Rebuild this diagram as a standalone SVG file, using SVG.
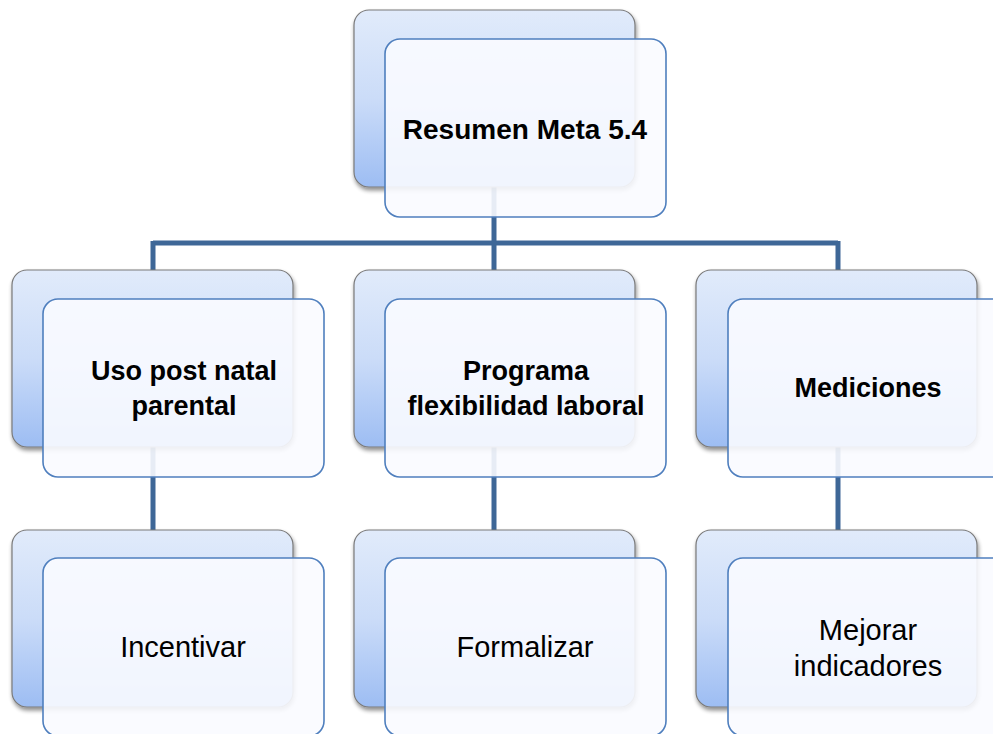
<svg xmlns="http://www.w3.org/2000/svg" width="993" height="734" viewBox="0 0 993 734">
<defs>
<linearGradient id="bg" x1="0" y1="0" x2="0" y2="1">
<stop offset="0" stop-color="#e1ebfb"/>
<stop offset="0.5" stop-color="#cbdcf8"/>
<stop offset="1" stop-color="#9dbdf3"/>
</linearGradient>
<filter id="sh" x="-10%" y="-10%" width="125%" height="125%">
<feGaussianBlur in="SourceAlpha" stdDeviation="2"/>
<feOffset dx="1" dy="3"/>
<feComponentTransfer><feFuncA type="linear" slope="0.45"/></feComponentTransfer>
<feMerge><feMergeNode/><feMergeNode in="SourceGraphic"/></feMerge>
</filter>
</defs>
<style>
.back{fill:url(#bg);stroke:#7a7a7a;stroke-width:1.2;filter:url(#sh)}
.front{fill:#fafbff;fill-opacity:0.9;stroke:#4f7fbe;stroke-width:1.6}
.conn{stroke:#3e6797;stroke-width:5;fill:none}
.b{font-family:"Liberation Sans",Arial,sans-serif;font-weight:bold;font-size:27px;fill:#000;text-anchor:middle}
.t{font-size:28px}
.r{font-family:"Liberation Sans",Arial,sans-serif;font-size:29px;fill:#000;text-anchor:middle}
</style>
<rect width="993" height="734" fill="#fff"/>
<g id="connectors">
<path class="conn" d="M494 187V243M153 243H838M153 241V270M838 241V270M494 243V299"/>
<path class="conn" d="M153 446V530M494 446V530M838 446V530"/>
</g>
<g id="n-top">
<rect class="back" x="354" y="10" width="281" height="177" rx="15"/>
<rect class="front" x="385" y="39" width="281" height="178" rx="15"/>
<text class="b t" x="525" y="139">Resumen Meta 5.4</text>
</g>
<g id="n-uso">
<rect class="back" x="12" y="270" width="281" height="177" rx="15"/>
<rect class="front" x="43" y="299" width="281" height="178" rx="15"/>
<text class="b" x="184" y="380">Uso post natal</text>
<text class="b" x="184" y="415">parental</text>
</g>
<g id="n-programa">
<rect class="back" x="354" y="270" width="281" height="177" rx="15"/>
<rect class="front" x="385" y="299" width="281" height="178" rx="15"/>
<text class="b" x="526" y="380">Programa</text>
<text class="b" x="526" y="415">flexibilidad laboral</text>
</g>
<g id="n-mediciones">
<rect class="back" x="696" y="270" width="281" height="177" rx="15"/>
<rect class="front" x="728" y="299" width="281" height="178" rx="15"/>
<text class="b" x="868" y="397">Mediciones</text>
</g>
<g id="n-incentivar">
<rect class="back" x="12" y="530" width="281" height="177" rx="15"/>
<rect class="front" x="43" y="558" width="281" height="178" rx="15"/>
<text class="r" x="183" y="657">Incentivar</text>
</g>
<g id="n-formalizar">
<rect class="back" x="354" y="530" width="281" height="177" rx="15"/>
<rect class="front" x="385" y="558" width="281" height="178" rx="15"/>
<text class="r" x="525" y="657">Formalizar</text>
</g>
<g id="n-mejorar">
<rect class="back" x="696" y="530" width="281" height="177" rx="15"/>
<rect class="front" x="728" y="558" width="281" height="178" rx="15"/>
<text class="r" x="868" y="640">Mejorar</text>
<text class="r" x="868" y="676">indicadores</text>
</g>
</svg>
